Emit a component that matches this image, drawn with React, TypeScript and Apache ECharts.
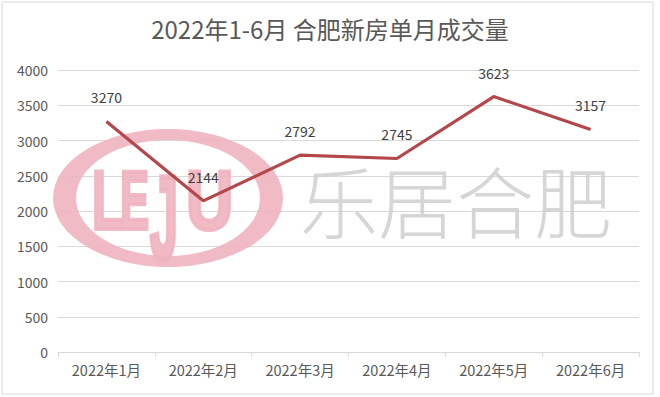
import React, { useEffect, useRef } from "react";
import * as echarts from "echarts";

// Monthly new-home transactions in Hefei, Jan–Jun 2022
const months = ["2022年1月", "2022年2月", "2022年3月", "2022年4月", "2022年5月", "2022年6月"];
const volumes = [3270, 2144, 2792, 2745, 3623, 3157];
const yTicks = { min: 0, max: 4000, interval: 500 };

const TEXT_FONT = '"Noto Sans CJK SC", "Noto Sans", sans-serif';
const LINE_COLOR = "#B4474A";
const PINK = "#F0B4BF";

// Elliptical ring of the LEJU mark: outer ellipse clockwise, inner one counter-clockwise
const RING_D =
  "M53,198 A115,69 0 1,1 283,198 A115,69 0 1,1 53,198 Z " +
  "M76,198 A92,58 0 1,0 260,198 A92,58 0 1,0 76,198 Z";
echarts.graphic.registerShape("lejuRing", echarts.graphic.extendPath(RING_D, {}) as any);

const letter = (text: string, x: number, y: number, sx: number, sy = 1) => ({
  type: "text",
  z: 1,
  x,
  y,
  scaleX: sx,
  scaleY: sy,
  silent: true,
  style: {
    text,
    fontFamily: '"Liberation Sans", sans-serif',
    fontWeight: "bold",
    fontSize: 84,
    fill: PINK,
    stroke: PINK,
    lineWidth: 4,
    opacity: 0.9,
  },
});

export default function App() {
  const ref = useRef<HTMLDivElement>(null);

  useEffect(() => {
    if (!ref.current) return;
    const chart = echarts.init(ref.current, undefined, { renderer: "svg" });
    chart.setOption({
      animation: false,
      backgroundColor: "#ffffff",
      title: {
        text: "2022年1-6月 合肥新房单月成交量",
        left: "center",
        top: 11,
        textStyle: { fontFamily: TEXT_FONT, fontSize: 24, fontWeight: "normal", color: "#595959" },
      },
      grid: { left: 58, right: 21, top: 70, bottom: 45 },
      xAxis: {
        type: "category",
        data: months,
        boundaryGap: true,
        axisLine: { lineStyle: { color: "#d9d9d9", width: 1 } },
        axisTick: { show: true, length: 5, lineStyle: { color: "#d9d9d9" } },
        axisLabel: { fontFamily: TEXT_FONT, fontSize: 14.5, color: "#595959", margin: 10 },
      },
      yAxis: {
        type: "value",
        min: yTicks.min,
        max: yTicks.max,
        interval: yTicks.interval,
        axisLine: { show: false },
        axisTick: { show: false },
        splitLine: { lineStyle: { color: "#d9d9d9", width: 1 } },
        axisLabel: {
          fontFamily: TEXT_FONT,
          fontSize: 14,
          color: "#595959",
          margin: 10,
          formatter: (v: number) => String(v),
        },
      },
      graphic: [
        // chart-area border
        {
          type: "rect",
          z: 0,
          shape: { x: 2, y: 2, width: 651, height: 392 },
          style: { fill: "none", stroke: "#d9d9d9", lineWidth: 1 },
          silent: true,
        },
        // LEJU watermark
        {
          type: "lejuRing",
          z: 1,
          x: 0,
          y: 0,
          silent: true,
          style: { fill: PINK, opacity: 0.9 },
        },
        letter("L", 92, 158, 0.6),
        letter("E", 120, 158, 0.52),
        letter("J", 150, 158, 0.6, 1.42),
        letter("U", 186, 158, 0.78),
        // 乐居合肥 watermark text
        {
          type: "text",
          z: 1,
          x: 300,
          y: 160,
          silent: true,
          style: {
            text: "乐居合肥",
            fontFamily: TEXT_FONT,
            fontWeight: 300,
            fontSize: 78,
            fill: "#cfcfcf",
            opacity: 0.85,
          },
        },
      ],
      series: [
        {
          type: "line",
          data: volumes,
          z: 3,
          symbol: "circle",
          symbolSize: 0,
          showSymbol: true,
          itemStyle: { color: LINE_COLOR },
          lineStyle: { color: LINE_COLOR, width: 3.2 },
          label: {
            show: true,
            position: "top",
            distance: 17,
            fontFamily: TEXT_FONT,
            fontSize: 14,
            color: "#404040",
          },
        },
      ],
    });
    return () => chart.dispose();
  }, []);

  return (
    <div
      ref={ref}
      style={{ position: "fixed", left: 0, top: 0, width: 660, height: 397 }}
    />
  );
}
